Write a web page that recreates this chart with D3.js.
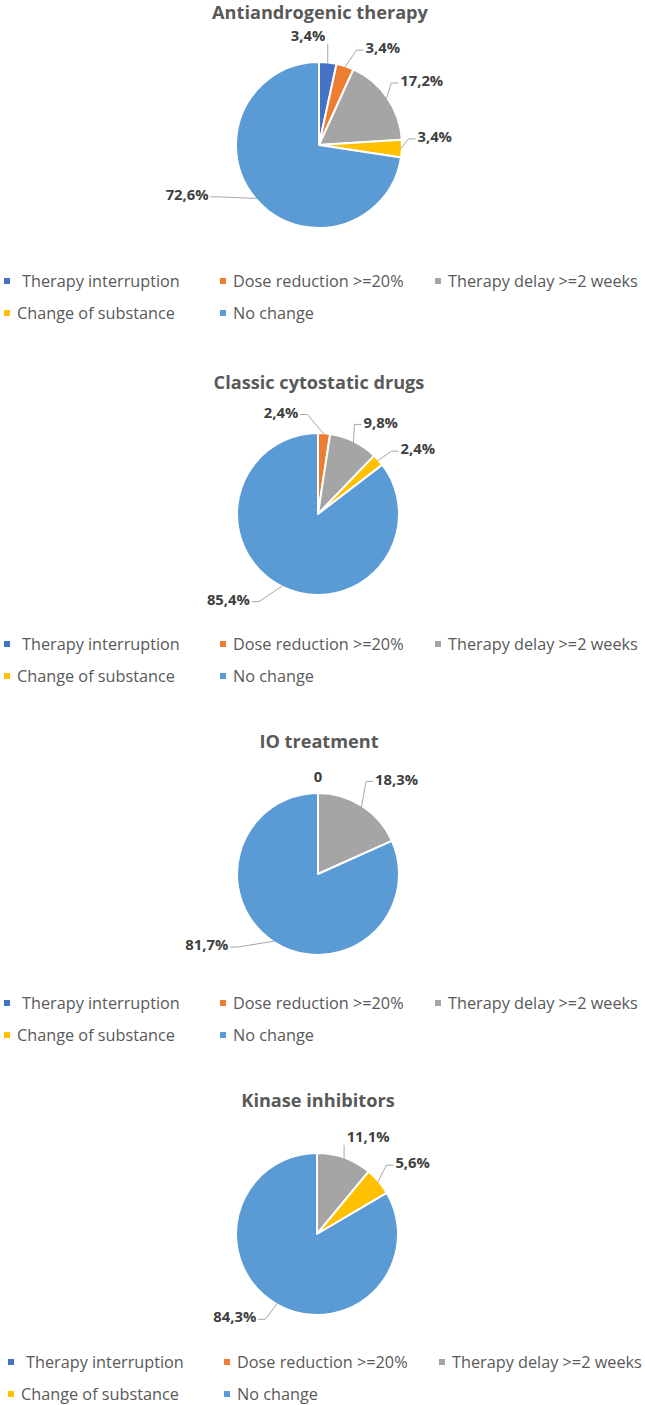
<!DOCTYPE html>
<html>
<head>
<meta charset="utf-8">
<script src="https://cdn.jsdelivr.net/npm/d3@7"></script>
<style>
  body { margin: 0; background: #fff; }
  svg { display: block; }
</style>
</head>
<body>
<div id="chart"></div>
<script>
// DATA
const titles = ["Antiandrogenic therapy", "Classic cytostatic drugs", "IO treatment", "Kinase inhibitors"];
const categories = ["Therapy interruption", "Dose reduction >=20%", "Therapy delay >=2 weeks", "Change of substance", "No change"];
const antiandrogenic = [3.4, 3.4, 17.2, 3.4, 72.6];
const cytostatic = [null, 2.4, 9.8, 2.4, 85.4];
const ioTreatment = [0, null, 18.3, null, 81.7];
const kinase = [null, null, 11.1, 5.6, 84.3];
const colors = ["#4472C4", "#ED7D31", "#A5A5A5", "#FFC000", "#5B9BD5"];

const series = [antiandrogenic, cytostatic, ioTreatment, kinase];

// LAYOUT (per panel)
const width = 645;
const height = 1405;
const pieCx = [319, 318, 318, 317];
const pieCy = [145, 514, 874, 1234];
const pieR = [83, 81, 81, 81];
const titleY = [19, 389, 748, 1107];
const legendY = [281, 644, 1003, 1362];
const legendDx = [0, 0, 0, 4];
// where excel parked each data label: [angle deg from 12 o'clock, distance from centre]
const labelPolar = [
  [[-5.7, 110], [33.4, 116], [58.1, 121], [86, 116], [249.3, 141]],
  [null, [-20, 108], [34.4, 111], [57, 119], [226.3, 124]],
  [[0, 97], null, [39.7, 123], null, [237.4, 132]],
  [null, null, [27.7, 110], [53.5, 119], [224.6, 117]]
];

const fontFamily = "'Open Sans', 'Noto Sans', sans-serif";
const textGrey = '#595959';
const labelGrey = '#404040';

const svg = d3.select('#chart').append('svg')
  .attr('width', width)
  .attr('height', height);

// pick a font size so a string hits a measured pixel width
function fitSize(str, weight, target) {
  const t = svg.append('text')
    .attr('font-family', fontFamily)
    .attr('font-weight', weight)
    .attr('font-size', 100)
    .text(str);
  const w = t.node().getComputedTextLength();
  t.remove();
  return 100 * target / w;
}

const titleSize = fitSize('Antiandrogenic therapy', 700, 216);
const labelSize = fitSize('17,2%', 700, 43);
const legendSize = fitSize('Therapy delay >=2 weeks', 400, 190);

const fmt = v => v === 0 ? '0' : v.toFixed(1).replace('.', ',') + '%';

const pie = d3.pie().sort(null).value(d => d == null ? 0 : d);

series.forEach(function(values, p) {
  const cx = pieCx[p];
  const cy = pieCy[p];
  const r = pieR[p];

  // TITLE
  svg.append('text')
    .attr('x', cx + 1)
    .attr('y', titleY[p])
    .attr('text-anchor', 'middle')
    .attr('font-family', fontFamily)
    .attr('font-weight', 700)
    .attr('font-size', titleSize)
    .attr('fill', textGrey)
    .text(titles[p]);

  // SLICES
  const arcs = pie(values);
  const arc = d3.arc().innerRadius(0).outerRadius(r);
  const g = svg.append('g')
    .attr('transform', `translate(${cx}, ${cy})`);

  g.selectAll('path.slice')
    .data(arcs.filter(d => d.data > 0))
    .enter()
    .append('path')
    .attr('class', 'slice')
    .attr('d', arc)
    .attr('fill', d => colors[d.index])
    .attr('stroke', '#fff')
    .attr('stroke-width', 2)
    .attr('stroke-linejoin', 'round');

  // LABELS + LEADER LINES
  arcs.forEach(function(d) {
    if (d.data == null) return;
    const pos = labelPolar[p][d.index];
    if (!pos) return;
    const a = pos[0] * Math.PI / 180;
    const lx = pos[1] * Math.sin(a);
    const ly = -pos[1] * Math.cos(a);

    const label = g.append('text')
      .attr('x', lx)
      .attr('y', ly)
      .attr('dy', '0.35em')
      .attr('text-anchor', 'middle')
      .attr('font-family', fontFamily)
      .attr('font-weight', 700)
      .attr('font-size', labelSize)
      .attr('fill', labelGrey)
      .text(fmt(d.data));

    if (d.data === 0) return;

    const mid = (d.startAngle + d.endAngle) / 2;
    const tx = (r - 1) * Math.sin(mid);
    const ty = -(r - 1) * Math.cos(mid);
    const w = label.node().getComputedTextLength();
    const left = lx - w / 2;
    const right = lx + w / 2;
    const half = labelSize * 0.42;

    let pts;
    if (tx < left - 6) {
      pts = [[left - 2, ly + 2], [left - 9, ly + 2], [tx, ty]];
    } else if (tx > right + 6) {
      pts = [[right + 2, ly + 2], [right + 9, ly + 2], [tx, ty]];
    } else {
      const yStart = ty > ly ? ly + half + 2 : ly - half - 2;
      pts = [[tx, yStart], [tx, ty]];
    }

    g.insert('path', 'text')
      .attr('d', d3.line()(pts))
      .attr('fill', 'none')
      .attr('stroke', '#A6A6A6')
      .attr('stroke-width', 1);
  });

  // LEGEND
  const rows = [[0, 1, 2], [3, 4]];
  const colX = [4, 220, 435];
  rows.forEach(function(row, ri) {
    const y = legendY[p] + ri * 32;
    row.forEach(function(ci, k) {
      const x = colX[k] + legendDx[p];
      svg.append('rect')
        .attr('x', x)
        .attr('y', y - 3)
        .attr('width', 6)
        .attr('height', 6)
        .attr('fill', colors[ci]);
      svg.append('text')
        .attr('x', x + (ci === 0 ? 18 : 13))
        .attr('y', y)
        .attr('dy', '0.35em')
        .attr('font-family', fontFamily)
        .attr('font-size', legendSize)
        .attr('fill', textGrey)
        .text(categories[ci]);
    });
  });
});
</script>
</body>
</html>
